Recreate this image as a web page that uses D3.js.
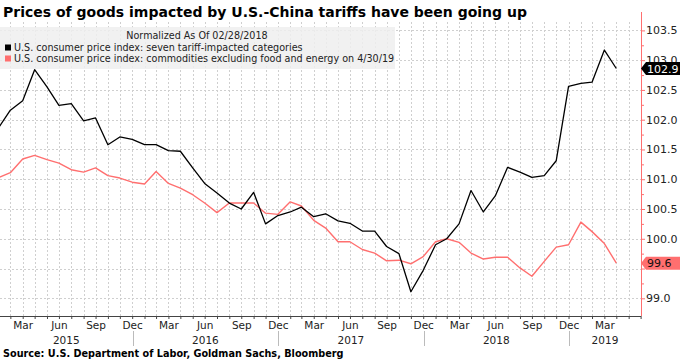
<!DOCTYPE html>
<html><head><meta charset="utf-8">
<script src="https://cdn.jsdelivr.net/npm/d3@7/dist/d3.min.js"></script>
<style>html,body{margin:0;padding:0;background:#fff;}svg{display:block;font-family:"DejaVu Sans",Verdana,sans-serif;}</style>
</head><body><svg id="c" width="680" height="360"></svg>
<script>
const months = ["2015-01","2015-02","2015-03","2015-04","2015-05","2015-06","2015-07","2015-08","2015-09","2015-10","2015-11","2015-12",
"2016-01","2016-02","2016-03","2016-04","2016-05","2016-06","2016-07","2016-08","2016-09","2016-10","2016-11","2016-12",
"2017-01","2017-02","2017-03","2017-04","2017-05","2017-06","2017-07","2017-08","2017-09","2017-10","2017-11","2017-12",
"2018-01","2018-02","2018-03","2018-04","2018-05","2018-06","2018-07","2018-08","2018-09","2018-10","2018-11","2018-12",
"2019-01","2019-02","2019-03","2019-04"];
const tariffCats = [101.88,102.16,102.32,102.84,102.55,102.24,102.27,101.98,102.03,101.58,101.71,101.67,
101.58,101.58,101.48,101.47,101.19,100.93,100.77,100.60,100.50,100.78,100.25,100.39,
100.45,100.53,100.37,100.42,100.30,100.26,100.13,100.13,99.87,99.75,99.11,99.47,
99.90,100.00,100.25,100.81,100.45,100.72,101.20,101.12,101.03,101.06,101.31,102.56,
102.61,102.63,103.17,102.86];
const coreGoods = [101.03,101.11,101.34,101.40,101.33,101.27,101.16,101.12,101.19,101.06,101.02,100.95,
100.92,101.13,100.93,100.85,100.74,100.60,100.44,100.60,100.60,100.60,100.43,100.41,
100.62,100.55,100.31,100.18,99.95,99.95,99.82,99.76,99.63,99.64,99.58,99.70,
99.95,100.00,99.94,99.76,99.66,99.69,99.69,99.51,99.37,99.62,99.86,99.90,
100.28,100.12,99.92,99.59];
const yTicks = [99.0,99.5,100.0,100.5,101.0,101.5,102.0,102.5,103.0,103.5];
// 99.5 sits behind the 99.6 last-value tag in the reference
const yTickLabels = ["99.0","","100.0","100.5","101.0","101.5","102.0","102.5","103.0","103.5"];
const quarterLabels = {2:"Mar",5:"Jun",8:"Sep",11:"Dec"};
const years = [2015,2016,2017,2018,2019];
const seriesNames = ["U.S. consumer price index: seven tariff-impacted categories",
"U.S. consumer price index: commodities excluding food and energy on 4/30/19"];
const title = "Prices of goods impacted by U.S.-China tariffs have been going up";
const legendTitle = "Normalized As Of 02/28/2018";
const source = "Source: U.S. Department of Labor, Goldman Sachs, Bloomberg";
const lastLabels = ["102.9","99.6"];

(function(){
const BLACK = "#000000", PINK = "#ff6f6f";
const svg = d3.select("#c");
const parse = s => { const [yy,m] = s.split("-").map(Number); return new Date(yy, m, 0); };
const dates = months.map(parse);
const pL = 0, pR = 641, pT = 22, pB = 316;
const x = d3.scaleTime().domain([new Date(2015,1,2), new Date(2019,6,1)]).range([pL, pR]);
const y = d3.scaleLinear().domain([99, 103.5]).range([298.3, 30.4]);

svg.append("rect").attr("width",680).attr("height",360).attr("fill","#fff");

// grid
const allMonths = d3.timeMonth.range(new Date(2015,0,1), new Date(2019,7,1)).map(d => new Date(d.getFullYear(), d.getMonth()+1, 0)).filter(d => x(d) >= pL && x(d) <= pR);
svg.append("g").selectAll("line").data(allMonths).join("line")
  .attr("x1", d => Math.round(x(d))+0.5).attr("x2", d => Math.round(x(d))+0.5).attr("y1", pT).attr("y2", pB)
  .attr("stroke", "#cfcfcf").attr("stroke-width", 1).attr("stroke-dasharray", "2,2");
svg.append("g").selectAll("line").data(yTicks).join("line")
  .attr("x1", pL).attr("x2", pR).attr("y1", d => Math.round(y(d))+0.5).attr("y2", d => Math.round(y(d))+0.5)
  .attr("stroke", "#cfcfcf").attr("stroke-width", 1).attr("stroke-dasharray", "2,2");

// lines
const line = d3.line().x((d,i) => x(dates[i])).y(d => y(d));
svg.append("path").datum(coreGoods).attr("d", line).attr("fill","none").attr("stroke", PINK).attr("stroke-width", 1.4).attr("stroke-linejoin","round");
svg.append("path").datum(tariffCats).attr("d", line).attr("fill","none").attr("stroke", BLACK).attr("stroke-width", 1.3).attr("stroke-linejoin","round");

// legend box
svg.append("rect").attr("x",0).attr("y",27).attr("width",395).attr("height",42).attr("fill","#eeeeee").attr("opacity",0.85);
svg.append("text").attr("x",197).attr("y",39).attr("text-anchor","middle").attr("font-size",9.6).attr("fill","#222").text(legendTitle);
[BLACK, PINK].forEach((c,i) => {
  svg.append("rect").attr("x",5).attr("y",44.5+i*11).attr("width",6).attr("height",6).attr("fill",c);
  svg.append("text").attr("x",14).attr("y",51+i*11).attr("font-size",9.6).attr("fill","#222").text(seriesNames[i]);
});

// title
svg.append("text").attr("x",3).attr("y",17).attr("font-size",14).attr("font-weight","bold").attr("fill","#000").text(title);

// right axis
const ya = d3.axisRight(y).tickValues(d3.range(99, 103.51, 0.25)).tickSize(3).tickFormat(d => { const i = yTicks.findIndex(v => Math.abs(v-d)<1e-6); return i>=0 ? yTickLabels[i] : ""; });
const gy = svg.append("g").attr("transform",`translate(${pR},0)`).call(ya);
gy.select(".domain").remove();
gy.selectAll(".tick line").attr("stroke", PINK).attr("x2", d => yTicks.some(v=>Math.abs(v-d)<1e-6) ? 4 : 3);
gy.selectAll(".tick text").attr("x",5).attr("font-size",11).attr("font-family","DejaVu Sans, sans-serif").attr("fill","#222");
svg.append("line").attr("x1",pR+0.5).attr("x2",pR+0.5).attr("y1",pT-10).attr("y2",pB).attr("stroke",PINK).attr("stroke-width",1);

// bottom axis
const xa = d3.axisBottom(x).tickValues(allMonths).tickSize(3).tickFormat(d => (x(d) < 620 && quarterLabels[d.getMonth()]) || "");
const gx = svg.append("g").attr("transform",`translate(0,${pB})`).call(xa);
gx.select(".domain").remove();
gx.selectAll(".tick line").attr("stroke","#444");
gx.selectAll(".tick text").attr("y",6).attr("font-size",10.5).attr("font-family","DejaVu Sans, sans-serif").attr("fill","#222");
svg.append("line").attr("x1",pL).attr("x2",pR).attr("y1",pB+0.5).attr("y2",pB+0.5).attr("stroke","#444");

// year separators & labels
years.forEach(yr => {
  const s = Math.max(pL, x(new Date(yr,0,1)));
  const e = Math.min(pR, x(new Date(yr+1,0,1)));
  if (yr > 2015) svg.append("line").attr("x1",Math.round(s)+0.5).attr("x2",Math.round(s)+0.5).attr("y1",331).attr("y2",346).attr("stroke","#bbb");
  svg.append("text").attr("x",(s+e)/2).attr("y",343.5).attr("text-anchor","middle").attr("font-size",10.5).attr("fill","#222").text(yr);
});

// last value tags
[[tariffCats, BLACK, "#fff"], [coreGoods, PINK, "#111"]].forEach(([arr, bg, fg], i) => {
  const yy = y(arr[arr.length-1]);
  const h = 13;
  svg.append("path").attr("d", `M${pR},${yy} L${pR+5},${yy-h/2} L680,${yy-h/2} L680,${yy+h/2} L${pR+5},${yy+h/2} Z`).attr("fill", bg);
  svg.append("text").attr("x",pR+6).attr("y",yy+4).attr("font-size",11).attr("fill",fg).text(lastLabels[i]);
});

// source
svg.append("text").attr("x",3).attr("y",357).attr("font-size",9.7).attr("font-weight","bold").attr("fill","#000").text(source);
})();
</script></body></html>
